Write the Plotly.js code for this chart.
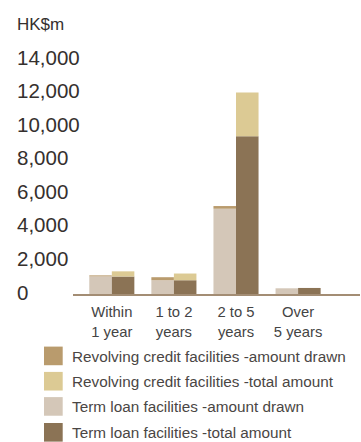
<!DOCTYPE html>
<html>
<head>
<meta charset="utf-8">
<script src="https://cdn.plot.ly/plotly-3.0.1.min.js"></script>
<style>html,body{margin:0;padding:0;background:#fff;}#chart{width:361px;height:442px;}</style>
</head>
<body>
<div id="chart"></div>
<script>
const categories = ['Within<br>1 year', '1 to 2<br>years', '2 to 5<br>years', 'Over<br>5 years'];
const termDrawn = [1050, 820, 5080, 340];
const revDrawn = [60, 180, 160, 0];
const termTotal = [1040, 820, 9400, 360];
const revTotal = [310, 400, 2600, 0];
const yTickVals = [0, 2000, 4000, 6000, 8000, 10000, 12000, 14000];
const yTickText = ['0', '2,000', '4,000', '6,000', '8,000', '10,000', '12,000', '14,000'];
const unitLabel = 'HK$m';
const legendNames = [
  'Revolving credit facilities -amount drawn',
  'Revolving credit facilities -total amount',
  'Term loan facilities -amount drawn',
  'Term loan facilities -total amount'
];
const colors = {
  revDrawn: '#b99b6d',
  revTotal: '#dcca94',
  termDrawn: '#d4c7b8',
  termTotal: '#8b7355'
};

const W = 361, H = 442;
const L = 73, R = 1, T = 58.6, B = 147.5;
const pw = W - L - R, ph = H - T - B;
const px = x => (x - L) / pw;
const py = y => (H - B - y) / ph;
const FONT = 'Liberation Sans, Arial, sans-serif';

const bw = 0.363;
const traces = [
  {type: 'bar', x: categories, y: termDrawn, offset: -bw, width: bw,
   marker: {color: colors.termDrawn, line: {width: 0}}, name: legendNames[2], showlegend: false},
  {type: 'bar', x: categories, y: revDrawn, base: termDrawn, offset: -bw, width: bw,
   marker: {color: colors.revDrawn, line: {width: 0}}, name: legendNames[0], showlegend: false},
  {type: 'bar', x: categories, y: termTotal, offset: 0, width: bw,
   marker: {color: colors.termTotal, line: {width: 0}}, name: legendNames[3], showlegend: false},
  {type: 'bar', x: categories, y: revTotal, base: termTotal, offset: 0, width: bw,
   marker: {color: colors.revTotal, line: {width: 0}}, name: legendNames[1], showlegend: false}
];

const annotations = [];
yTickVals.forEach((v, i) => {
  annotations.push({xref: 'paper', yref: 'y', x: px(15), y: v, xanchor: 'left', yanchor: 'middle', yshift: 2,
    text: yTickText[i], showarrow: false, font: {family: FONT, size: 20.5, color: '#35302e'}});
});
annotations.push({xref: 'paper', yref: 'paper', x: px(15), y: py(23.5), xanchor: 'left', yanchor: 'middle',
  text: unitLabel, showarrow: false, font: {family: FONT, size: 17, color: '#35302e'}});

const legendColors = [colors.revDrawn, colors.revTotal, colors.termDrawn, colors.termTotal];
const rowTops = [347.3, 372.7, 398, 424];
const shapes = [];
legendNames.forEach((n, i) => {
  const top = rowTops[i];
  shapes.push({type: 'rect', xref: 'paper', yref: 'paper', x0: px(44), x1: px(62.7), y0: py(top), y1: py(top + 18.7),
    fillcolor: legendColors[i], line: {width: 0}});
  annotations.push({xref: 'paper', yref: 'paper', x: px(69.5), y: py(top + 9.8), xanchor: 'left', yanchor: 'middle',
    text: n, showarrow: false, font: {family: FONT, size: 15.3, color: '#4a4644'}});
});

const layout = {
  width: W, height: H,
  margin: {l: L, r: R, t: T, b: B, pad: 0},
  paper_bgcolor: '#fff', plot_bgcolor: '#fff',
  barmode: 'overlay',
  showlegend: false,
  xaxis: {type: 'category', range: [-0.625, 3.997], showgrid: false, zeroline: false,
    showline: true, linecolor: '#a38d74', linewidth: 1.6, ticks: '', ticklabelstandoff: 4,
    tickfont: {family: FONT, size: 14.8, color: '#444'}},
  yaxis: {range: [0, 14000], showgrid: false, zeroline: false, showticklabels: false, showline: false, ticks: ''},
  annotations: annotations,
  shapes: shapes
};

Plotly.newPlot('chart', traces, layout, {displayModeBar: false, staticPlot: true});
</script>
</body>
</html>
